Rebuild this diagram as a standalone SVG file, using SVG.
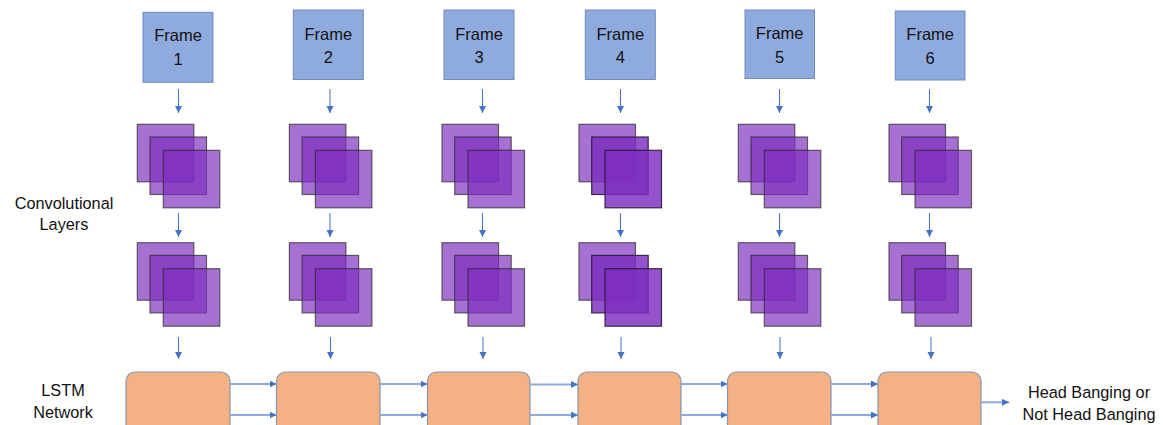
<svg xmlns="http://www.w3.org/2000/svg" width="1163" height="425" viewBox="0 0 1163 425">
<style>
  .frame { fill: #8FAADC; stroke: #7189BF; stroke-width: 1; }
  .ftxt { font-family: "Liberation Sans", Arial, sans-serif; font-size: 16.5px; fill: #111; text-anchor: middle; }
  .lbl { font-family: "Liberation Sans", Arial, sans-serif; font-size: 16.3px; fill: #111; text-anchor: middle; }
  .sq { fill: #7D2DBE; fill-opacity: 0.68; stroke: #2a2a2a; stroke-opacity: 0.7; stroke-width: 1.2; }
  .sqd { fill: #7D2DBE; fill-opacity: 0.82; stroke: #2a1a3a; stroke-opacity: 0.9; stroke-width: 1.2; }
  .lstm { fill: #F4B183; stroke: #8497B0; stroke-width: 1.2; }
  .down { stroke: #4472C4; stroke-width: 1; fill: none; marker-end: url(#ah); }
  .hz { stroke: #8FAADC; stroke-width: 2; fill: none; marker-end: url(#ah); }
</style>
<defs>
  <marker id="ah" markerUnits="userSpaceOnUse" markerWidth="8" markerHeight="8" refX="7" refY="3.5" orient="auto">
    <path d="M0,0 L7,3.5 L0,7 z" fill="#4472C4"/>
  </marker>
  <g id="stack">
    <rect class="sq" x="0" y="0" width="56.5" height="57.5"/>
    <rect class="sq" x="12.7" y="12.7" width="56.5" height="57.5"/>
    <rect class="sq" x="26" y="26" width="56.5" height="57.5"/>
  </g>
  <g id="stackd">
    <rect class="sq" x="0" y="0" width="56.5" height="57.5"/>
    <rect class="sqd" x="12.7" y="12.7" width="56.5" height="57.5"/>
    <rect class="sqd" x="26" y="26" width="56.5" height="57.5"/>
  </g>
</defs>
<rect width="1163" height="425" fill="#ffffff"/>

<g id="labels">
  <text class="lbl" x="64" y="209">Convolutional</text>
  <text class="lbl" x="64" y="230">Layers</text>
  <text class="lbl" x="63" y="396">LSTM</text>
  <text class="lbl" x="63" y="418">Network</text>
  <text class="lbl" x="1089" y="398">Head Banging or</text>
  <text class="lbl" x="1089" y="420">Not Head Banging</text>
</g>

<g id="frame1"><rect class="frame" x="143" y="12.3" width="70" height="70"/><text class="ftxt" x="178" y="40.5">Frame</text><text class="ftxt" x="178" y="64.5">1</text></g>
<g id="frame2"><rect class="frame" x="293.3" y="10" width="70" height="69.5"/><text class="ftxt" x="328.3" y="39.5">Frame</text><text class="ftxt" x="328.3" y="63">2</text></g>
<g id="frame3"><rect class="frame" x="444" y="10" width="70" height="69.5"/><text class="ftxt" x="479" y="39.5">Frame</text><text class="ftxt" x="479" y="63">3</text></g>
<g id="frame4"><rect class="frame" x="585.3" y="10" width="70" height="69.5"/><text class="ftxt" x="620.3" y="39.5">Frame</text><text class="ftxt" x="620.3" y="63">4</text></g>
<g id="frame5"><rect class="frame" x="745" y="10" width="69.5" height="68.5"/><text class="ftxt" x="779.7" y="39">Frame</text><text class="ftxt" x="779.7" y="62.5">5</text></g>
<g id="frame6"><rect class="frame" x="895.3" y="11" width="69.7" height="69"/><text class="ftxt" x="930.2" y="40">Frame</text><text class="ftxt" x="930.2" y="63.5">6</text></g>

<g id="conv1a"><use href="#stack" x="137.3" y="124.3"/></g>
<g id="conv2a"><use href="#stack" x="289.4" y="124.3"/></g>
<g id="conv3a"><use href="#stack" x="442" y="124.3"/></g>
<g id="conv4a"><use href="#stackd" x="579" y="124.3"/></g>
<g id="conv5a"><use href="#stack" x="738.3" y="124.3"/></g>
<g id="conv6a"><use href="#stack" x="889" y="124.3"/></g>

<g id="conv1b"><use href="#stack" x="137.3" y="242.7"/></g>
<g id="conv2b"><use href="#stack" x="289.4" y="242.7"/></g>
<g id="conv3b"><use href="#stack" x="442" y="242.7"/></g>
<g id="conv4b"><use href="#stackd" x="579" y="242.7"/></g>
<g id="conv5b"><use href="#stack" x="738.3" y="242.7"/></g>
<g id="conv6b"><use href="#stack" x="889" y="242.7"/></g>

<g id="lstm1"><rect class="lstm" x="126" y="372" width="104" height="62" rx="9"/></g>
<g id="lstm2"><rect class="lstm" x="276.5" y="372" width="103.5" height="62" rx="9"/></g>
<g id="lstm3"><rect class="lstm" x="427.5" y="372" width="102.5" height="62" rx="9"/></g>
<g id="lstm4"><rect class="lstm" x="578" y="372" width="103" height="62" rx="9"/></g>
<g id="lstm5"><rect class="lstm" x="727.5" y="372" width="103.5" height="62" rx="9"/></g>
<g id="lstm6"><rect class="lstm" x="878" y="372" width="103" height="62" rx="9"/></g>

<g id="connectors">
  <line class="down" x1="178.5" y1="89" x2="178.5" y2="113"/>
  <line class="down" x1="330" y1="89" x2="330" y2="113"/>
  <line class="down" x1="482.5" y1="89" x2="482.5" y2="113"/>
  <line class="down" x1="620.5" y1="89" x2="620.5" y2="113"/>
  <line class="down" x1="779.5" y1="89" x2="779.5" y2="113"/>
  <line class="down" x1="929.5" y1="89" x2="929.5" y2="113"/>

  <line class="down" x1="178.5" y1="213" x2="178.5" y2="237"/>
  <line class="down" x1="330" y1="213" x2="330" y2="237"/>
  <line class="down" x1="482.5" y1="213" x2="482.5" y2="237"/>
  <line class="down" x1="620.5" y1="213" x2="620.5" y2="237"/>
  <line class="down" x1="779.5" y1="213" x2="779.5" y2="237"/>
  <line class="down" x1="929.5" y1="213" x2="929.5" y2="237"/>

  <line class="down" x1="178.5" y1="337" x2="178.5" y2="359"/>
  <line class="down" x1="330.5" y1="337" x2="330.5" y2="359"/>
  <line class="down" x1="483" y1="337" x2="483" y2="359"/>
  <line class="down" x1="621" y1="337" x2="621" y2="359"/>
  <line class="down" x1="780" y1="337" x2="780" y2="359"/>
  <line class="down" x1="931" y1="337" x2="931" y2="359"/>

  <line class="hz" x1="230" y1="384" x2="276.5" y2="384"/>
  <line class="hz" x1="230" y1="415" x2="276.5" y2="415"/>
  <line class="hz" x1="380" y1="384" x2="427.5" y2="384"/>
  <line class="hz" x1="380" y1="415" x2="427.5" y2="415"/>
  <line class="hz" x1="530" y1="384.5" x2="578" y2="384.5"/>
  <line class="hz" x1="530" y1="415" x2="578" y2="415"/>
  <line class="hz" x1="681" y1="384" x2="727.5" y2="384"/>
  <line class="hz" x1="681" y1="415" x2="727.5" y2="415"/>
  <line class="hz" x1="831" y1="384" x2="878" y2="384"/>
  <line class="hz" x1="831" y1="415" x2="878" y2="415"/>
  <line class="hz" x1="981" y1="402.3" x2="1009" y2="402.3"/>
</g>
</svg>
